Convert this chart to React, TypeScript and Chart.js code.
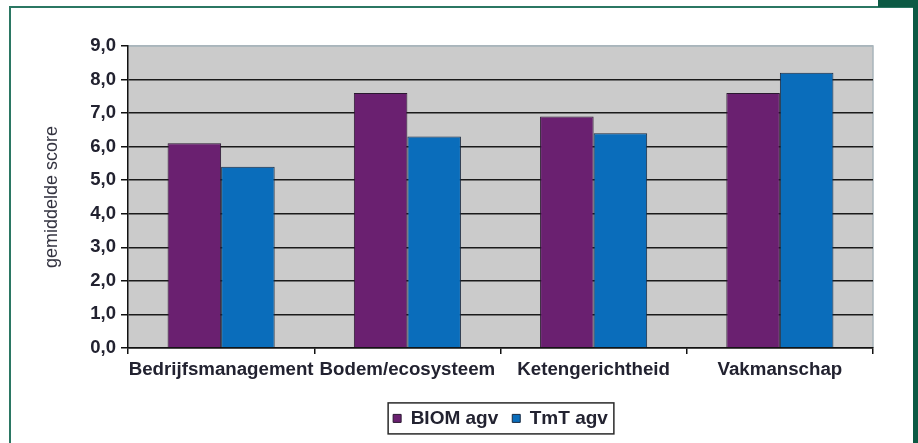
import React, { useEffect, useRef } from 'react';
import { Chart, registerables } from 'chart.js';

Chart.register(...registerables);

const categories = ['Bedrijfsmanagement', 'Bodem/ecosysteem', 'Ketengerichtheid', 'Vakmanschap'];
const seriesNames = ['BIOM agv', 'TmT agv'];
const biomAgv = [6.1, 7.6, 6.9, 7.6];
const tmtAgv = [5.4, 6.3, 6.4, 8.2];
const yTickLabels = ['0,0', '1,0', '2,0', '3,0', '4,0', '5,0', '6,0', '7,0', '8,0', '9,0'];
const yAxisTitle = 'gemiddelde score';

const FONT = '"Liberation Sans", Arial, sans-serif';
const TEXT = '#222230';

const plotBg = {
  id: 'plotBg',
  beforeDraw(chart: any) {
    const { ctx, chartArea: a } = chart;
    ctx.save();
    ctx.fillStyle = '#cbcbcb';
    ctx.fillRect(a.left, a.top, a.right - a.left, a.bottom - a.top);
    ctx.strokeStyle = '#a9b5bc';
    ctx.lineWidth = 1.5;
    ctx.beginPath();
    ctx.moveTo(a.left, a.top);
    ctx.lineTo(a.right, a.top);
    ctx.lineTo(a.right, a.bottom);
    ctx.stroke();
    ctx.restore();
  },
};

const legendBox = {
  id: 'legendBox',
  afterDraw(chart: any) {
    const lg = chart.legend;
    const hb = lg && lg.legendHitBoxes;
    if (!hb || !hb.length) return;
    const { ctx } = chart;
    const left = Math.min(...hb.map((h: any) => h.left)) - 5;
    const right = Math.max(...hb.map((h: any) => h.left + h.width)) + 6;
    const cy = hb[0].top + hb[0].height / 2;
    ctx.save();
    ctx.strokeStyle = '#2a2a2a';
    ctx.lineWidth = 1.5;
    ctx.strokeRect(left, cy - 15.5, right - left, 31);
    ctx.restore();
  },
};

export default function App() {
  const ref = useRef<HTMLCanvasElement | null>(null);

  useEffect(() => {
    if (!ref.current) return;
    const chart = new Chart(ref.current, {
      type: 'bar',
      data: {
        labels: categories,
        datasets: [
          {
            label: seriesNames[0],
            data: biomAgv,
            backgroundColor: '#6a2070',
            borderColor: '#2a1830',
            borderWidth: 1,
          },
          {
            label: seriesNames[1],
            data: tmtAgv,
            backgroundColor: '#0a6dbb',
            borderColor: '#1a2a40',
            borderWidth: 1,
          },
        ],
      },
      options: {
        animation: false,
        responsive: true,
        maintainAspectRatio: false,
        layout: { padding: { left: 0, right: 45, top: 46, bottom: 5.1 } },
        datasets: {
          bar: { categoryPercentage: 0.575, barPercentage: 1.0 },
        },
        plugins: {
          tooltip: { enabled: false },
          legend: {
            position: 'bottom',
            fullSize: false,
            labels: {
              boxWidth: 8,
              boxHeight: 8,
              padding: 14,
              color: TEXT,
              font: { family: FONT, size: 19, weight: 'bold' },
            },
          },
        },
        scales: {
          x: {
            afterFit: (s: any) => {
              s.height = 47;
            },
            border: { display: true, color: '#111', width: 1.5 },
            grid: {
              offset: true,
              drawOnChartArea: false,
              drawTicks: true,
              tickLength: 6,
              color: '#111',
              lineWidth: 1.5,
            },
            ticks: {
              color: TEXT,
              padding: 5,
              maxRotation: 0,
              autoSkip: false,
              font: { family: FONT, size: 18.7, weight: 'bold' },
            },
          },
          y: {
            min: 0,
            max: 9,
            afterFit: (s: any) => {
              s.width = 128;
            },
            border: { display: true, color: '#111', width: 1.5 },
            grid: {
              color: (c: any) => (c.tick && c.tick.value === 9 ? '#a9b5bc' : '#1a1a1a'),
              lineWidth: 1.5,
              tickLength: 7,
              tickColor: '#111',
            },
            ticks: {
              stepSize: 1,
              padding: 5,
              color: TEXT,
              font: { family: FONT, size: 18.5, weight: 'bold' },
              callback: (v: any) => yTickLabels[Math.round(Number(v))],
            },
            title: {
              display: true,
              text: yAxisTitle,
              color: '#333340',
              padding: { top: 41, bottom: 0 },
              font: { family: FONT, size: 18 },
            },
          },
        },
      },
      plugins: [plotBg, legendBox],
    });
    return () => chart.destroy();
  }, []);

  const green = '#2b7763';
  const dark = '#0c5a44';
  return (
    <div
      style={{
        position: 'fixed',
        left: 0,
        top: 0,
        width: 918,
        height: 443,
        background: '#ffffff',
        overflow: 'hidden',
      }}
    >
      <div style={{ position: 'absolute', left: 0, top: 0, width: 918, height: 443 }}>
        <canvas ref={ref} />
      </div>
      <div style={{ position: 'absolute', left: 9, top: 6, width: 2, height: 437, background: green }} />
      <div style={{ position: 'absolute', left: 9, top: 6, width: 904, height: 2, background: green }} />
      <div style={{ position: 'absolute', left: 878, top: 0, width: 40, height: 7, background: dark }} />
      <div style={{ position: 'absolute', left: 913, top: 0, width: 5, height: 443, background: dark }} />
    </div>
  );
}
